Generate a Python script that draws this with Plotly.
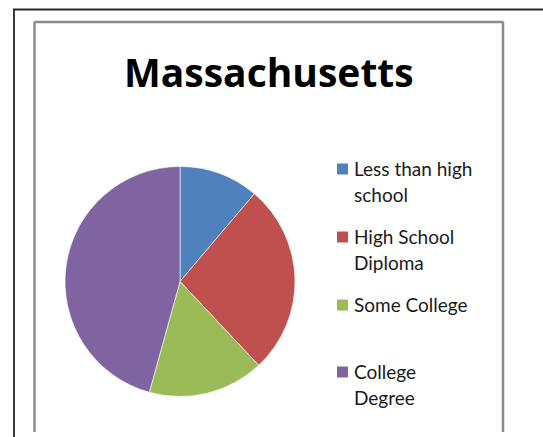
import plotly.graph_objects as go

# Educational attainment shares (%)
labels = ["Less than high school", "High School Diploma", "Some College", "College Degree"]
shares = [11.2, 26.8, 16.3, 45.7]
colors = ["#4F81BD", "#C0504D", "#9BBB59", "#8064A2"]
legend_lines = [["Less than high", "school"], ["High School", "Diploma"], ["Some College"], ["College", "Degree"]]
title_text = "Massachusetts"

W, H = 543, 437


def px(x):
    return x / W


def py(y):
    return 1 - y / H


# pie geometry in pixels
cx, cy, r = 180, 281.5, 115

fig = go.Figure(go.Pie(
    labels=labels,
    values=shares,
    sort=False,
    direction="clockwise",
    rotation=0,
    marker=dict(colors=colors, line=dict(color="white", width=0.6)),
    textinfo="none",
    hoverinfo="label+percent",
    showlegend=False,
    domain=dict(x=[px(cx - r), px(cx + r)], y=[py(cy + r), py(cy - r)]),
))

shapes = []
# outer sheet frame
shapes.append(dict(type="line", xref="paper", yref="paper", x0=px(14), x1=px(14), y0=py(9), y1=0,
                   line=dict(color="#3a3a3a", width=2)))
shapes.append(dict(type="line", xref="paper", yref="paper", x0=px(13), x1=1, y0=py(9.5), y1=py(9.5),
                   line=dict(color="#2a2a2a", width=2)))
# chart area border
for (x0, y0, x1, y1) in [(34.5, 21.5, 34.5, 432), (34.5, 22, 503, 22), (503, 21.5, 503, 432)]:
    shapes.append(dict(type="line", xref="paper", yref="paper", x0=px(x0), x1=px(x1), y0=py(y0), y1=py(y1),
                       line=dict(color="#8c8c8c", width=2.5)))

annotations = [dict(text="<b>%s</b>" % title_text, x=px(269), y=py(71.5), xref="paper", yref="paper",
                    xanchor="center", yanchor="middle", showarrow=False,
                    font=dict(family="Open Sans", size=39, color="black"))]

# legend: one swatch and wrapped label per slice
first_line_y = [168, 236, 304, 371]
line_gap = 26
for lines, col, y0 in zip(legend_lines, colors, first_line_y):
    shapes.append(dict(type="rect", xref="paper", yref="paper", x0=px(337), x1=px(348),
                       y0=py(y0 + 6.5), y1=py(y0 - 4.5), fillcolor=col, line=dict(width=0)))
    for i, t in enumerate(lines):
        annotations.append(dict(text=t, x=px(352), y=py(y0 + i * line_gap), xref="paper", yref="paper",
                                xanchor="left", yanchor="middle", showarrow=False,
                                font=dict(family="Lato", size=19, color="#1a1a1a")))

fig.update_layout(
    width=W, height=H,
    margin=dict(l=0, r=0, t=0, b=0),
    paper_bgcolor="white",
    plot_bgcolor="white",
    shapes=shapes,
    annotations=annotations,
)

fig.write_html("out.html")
